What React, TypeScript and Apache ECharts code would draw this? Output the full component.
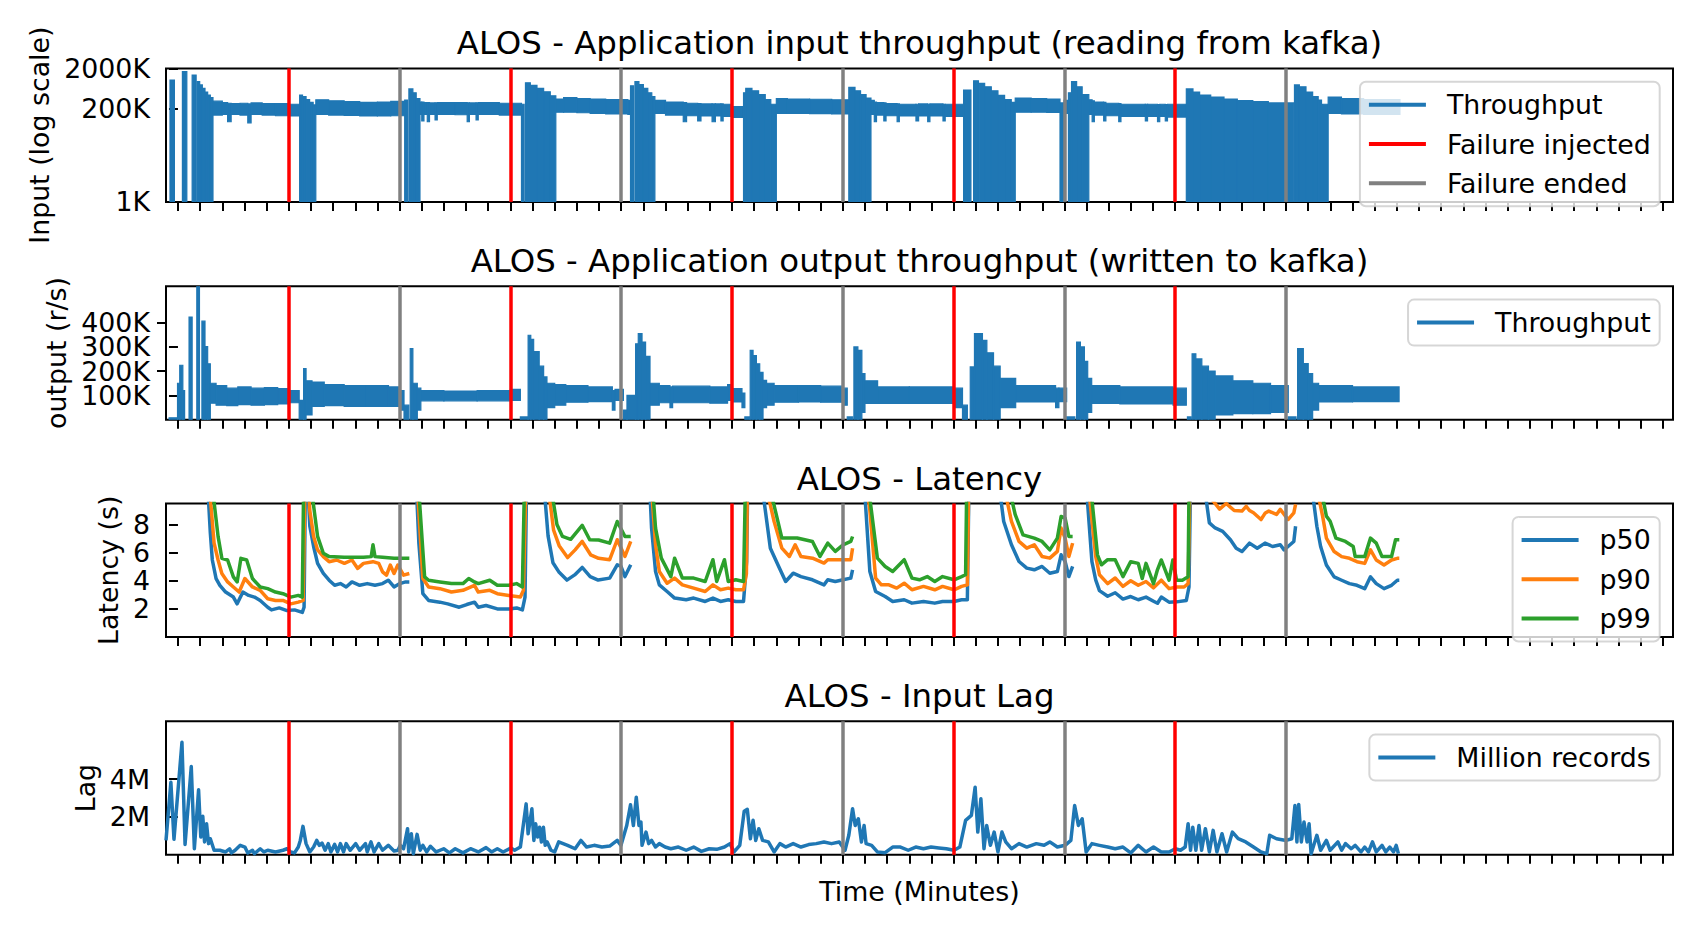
import React, { useEffect, useRef } from 'react';
import * as echarts from 'echarts';

// ---------- axes / events ----------
const X_MIN = -0.54;
const X_MAX = 67.46;
const MINUTE_TICKS = Array.from({ length: 68 }, (_, i) => i);
const FAILURE_INJECTED = [5, 15, 25, 35, 45];
const FAILURE_ENDED = [10, 20, 30, 40, 50];
const INPUT_TICKS = [1, 200, 2000]; // K records/s (log)
const OUTPUT_TICKS_A = [100, 300]; // K records/s (split over two axes so that
const OUTPUT_TICKS_B = [200, 400]; //   the tightly packed labels all stay visible)
const LATENCY_TICKS = [2, 4, 6, 8]; // s
const LAG_TICKS = [2, 4]; // M records

const TITLES = [
  'ALOS - Application input throughput (reading from kafka)',
  'ALOS - Application output throughput (written to kafka)',
  'ALOS - Latency',
  'ALOS - Input Lag',
];
const Y_NAMES = ['Input (log scale)', 'output (r/s)', 'Latency (s)', 'Lag'];

// ---------- input throughput: [t0, t1, low K, high K] ----------
const INPUT_BLOCKS = [
  [-0.36, -0.16, 1, 1030], [0.2, 0.4, 1, 1660], [0.64, 0.82, 1, 1370], [0.86, 0.98, 1, 940],
  [0.98, 1.1, 1, 780], [1.1, 1.22, 1, 640], [1.22, 1.34, 1, 520], [1.34, 1.46, 1, 440],
  [1.46, 1.58, 1, 380], [1.58, 2.0, 140, 310], [2.0, 2.24, 145, 285], [2.24, 2.4, 96, 275],
  [2.4, 2.8, 145, 270], [2.8, 3.15, 140, 275], [3.15, 3.3, 90, 265], [3.3, 3.8, 145, 280],
  [3.8, 4.4, 140, 270], [4.4, 5.0, 135, 270], [5.0, 5.49, 133, 260], [5.49, 5.62, 1, 440],
  [5.62, 5.78, 1, 400], [5.78, 5.94, 1, 340], [5.94, 6.1, 1, 290], [6.1, 6.22, 1, 250],
  [6.22, 6.8, 145, 335], [6.8, 7.5, 140, 315], [7.5, 8.2, 137, 300], [8.2, 9.0, 133, 290],
  [9.0, 9.6, 133, 295], [9.6, 10.23, 135, 305], [10.23, 10.36, 1, 330], [10.42, 10.6, 1, 620],
  [10.6, 10.75, 1, 500], [10.75, 10.92, 1, 360], [10.92, 11.0, 145, 295], [11.0, 11.1, 100, 295],
  [11.1, 11.25, 145, 285], [11.25, 11.35, 96, 285], [11.35, 11.6, 145, 280], [11.6, 11.7, 106, 280],
  [11.7, 12.5, 145, 285], [12.5, 13.05, 143, 285], [13.05, 13.15, 96, 280], [13.15, 13.45, 145, 280],
  [13.45, 13.55, 106, 280], [13.55, 14.5, 145, 285], [14.5, 15.5, 140, 275], [15.5, 15.62, 1, 260],
  [15.68, 15.9, 1, 880], [15.9, 16.2, 1, 760], [16.2, 16.5, 1, 640], [16.5, 16.8, 1, 530],
  [16.8, 17.05, 1, 420], [17.05, 17.4, 165, 350], [17.4, 18.0, 165, 380], [18.0, 18.6, 160, 360],
  [18.6, 19.3, 155, 350], [19.3, 20.3, 150, 340], [20.3, 20.42, 145, 325], [20.42, 20.56, 1, 740],
  [20.62, 20.8, 1, 937], [20.8, 21.0, 1, 800], [21.0, 21.2, 1, 640], [21.2, 21.38, 1, 500],
  [21.38, 21.52, 1, 400], [21.52, 22.0, 155, 325], [22.0, 22.8, 140, 295], [22.8, 22.95, 96, 285],
  [22.95, 23.45, 135, 275], [23.45, 23.6, 100, 270], [23.6, 24.1, 133, 265], [24.1, 24.25, 96, 265],
  [24.25, 24.5, 133, 265], [24.5, 24.6, 100, 265], [24.6, 25.0, 130, 260], [25.0, 25.52, 122, 228],
  [25.52, 25.62, 1, 500], [25.62, 25.9, 1, 640], [25.9, 26.2, 1, 560], [26.2, 26.5, 1, 450],
  [26.5, 26.75, 1, 340], [26.75, 27.0, 1, 260], [27.0, 27.5, 155, 360], [27.5, 28.5, 155, 350],
  [28.5, 29.5, 153, 345], [29.5, 30.27, 150, 335], [30.27, 30.55, 1, 680], [30.55, 30.8, 1, 560],
  [30.8, 31.05, 1, 450], [31.05, 31.27, 1, 370], [31.27, 31.42, 145, 325], [31.42, 31.52, 96, 295],
  [31.52, 31.85, 140, 285], [31.85, 31.95, 100, 280], [31.95, 32.45, 135, 270], [32.45, 32.55, 96, 265],
  [32.55, 33.3, 133, 260], [33.3, 33.42, 100, 260], [33.42, 33.83, 133, 265], [33.83, 33.93, 96, 260],
  [33.93, 34.52, 133, 265], [34.52, 34.62, 100, 260], [34.62, 35.45, 130, 260], [35.45, 35.78, 1, 584],
  [35.9, 36.12, 1, 990], [36.16, 36.4, 1, 850], [36.4, 36.7, 1, 700], [36.7, 37.0, 1, 560],
  [37.0, 37.3, 1, 430], [37.3, 37.6, 1, 340], [37.6, 37.78, 1, 290], [37.78, 38.5, 165, 370],
  [38.5, 39.2, 165, 360], [39.2, 39.8, 163, 350], [39.8, 39.98, 1, 280], [39.98, 40.18, 155, 325],
  [40.18, 40.3, 1, 500], [40.32, 40.55, 1, 937], [40.55, 40.8, 1, 700], [40.8, 41.1, 1, 450],
  [41.1, 41.25, 145, 335], [41.25, 41.35, 96, 315], [41.35, 41.77, 140, 295], [41.77, 41.87, 100, 290],
  [41.87, 42.45, 135, 275], [42.45, 42.55, 96, 270], [42.55, 43.65, 130, 260], [43.65, 43.75, 100, 260],
  [43.75, 44.2, 130, 260], [44.2, 44.3, 96, 255], [44.3, 44.55, 130, 260], [44.55, 44.65, 100, 255],
  [44.65, 45.5, 125, 260], [45.5, 45.8, 1, 620], [45.8, 46.1, 1, 520], [46.1, 46.6, 1, 440],
  [46.6, 47.2, 1, 390], [47.2, 47.8, 1, 350], [47.8, 48.5, 1, 320], [48.5, 49.2, 1, 300],
  [49.2, 50.35, 1, 280], [50.38, 50.6, 1, 780], [50.6, 50.9, 1, 700], [50.9, 51.2, 1, 520],
  [51.2, 51.45, 1, 400], [51.45, 51.6, 1, 330], [51.65, 51.9, 1, 260], [51.9, 52.5, 155, 390],
  [52.5, 53.5, 150, 360], [53.5, 55.14, 145, 340],
];

// ---------- output throughput: [t0, t1, low K, high K] ----------
const OUTPUT_BLOCKS = [
  [-0.4, -0.02, 0, 8], [-0.02, 0.08, 0, 150], [0.08, 0.22, 0, 224], [0.22, 0.3, 0, 120],
  [0.5, 0.64, 0, 422], [0.85, 0.97, 0, 560], [1.08, 1.22, 0, 405], [1.22, 1.34, 0, 300],
  [1.34, 1.46, 0, 230], [1.46, 1.72, 68, 150], [1.72, 2.2, 60, 140], [2.2, 2.7, 58, 130],
  [2.7, 3.3, 62, 135], [3.3, 3.9, 60, 130], [3.9, 4.5, 62, 132], [4.5, 5.0, 65, 128],
  [5.0, 5.47, 70, 120], [5.47, 5.67, 0, 80], [5.67, 5.78, 0, 210], [5.78, 6.05, 20, 160],
  [6.05, 6.6, 55, 155], [6.6, 7.5, 58, 145], [7.5, 8.5, 55, 140], [8.5, 9.5, 55, 140],
  [9.5, 10.0, 55, 135], [10.0, 10.2, 40, 120], [10.2, 10.42, 0, 60], [10.48, 10.6, 0, 292],
  [10.6, 10.8, 0, 150], [10.8, 10.96, 40, 130], [10.96, 12.0, 78, 120], [12.0, 13.5, 78, 118],
  [13.5, 15.0, 78, 120], [15.0, 15.45, 80, 125], [15.45, 15.8, 0, 12], [15.8, 15.92, 0, 347],
  [15.92, 16.05, 0, 330], [16.05, 16.3, 0, 280], [16.3, 16.5, 0, 220], [16.5, 16.65, 0, 176],
  [16.65, 17.0, 50, 150], [17.0, 17.5, 60, 145], [17.5, 18.5, 72, 140], [18.5, 19.6, 75, 135],
  [19.6, 19.72, 40, 120], [19.72, 20.1, 80, 125], [20.1, 20.26, 0, 40], [20.26, 20.65, 0, 100],
  [20.65, 20.77, 0, 312], [20.77, 20.94, 0, 354], [20.94, 21.1, 0, 319], [21.1, 21.3, 0, 260],
  [21.3, 21.72, 60, 150], [21.72, 22.2, 70, 140], [22.2, 22.32, 50, 135], [22.32, 24.0, 70, 138],
  [24.0, 24.8, 68, 135], [24.8, 25.0, 80, 145], [25.0, 25.45, 73, 128], [25.45, 25.58, 50, 110],
  [25.58, 25.8, 0, 12], [25.82, 25.95, 0, 285], [25.95, 26.1, 0, 264], [26.1, 26.25, 0, 230],
  [26.25, 26.4, 0, 195], [26.4, 26.56, 50, 162], [26.56, 26.9, 60, 150], [26.9, 28.0, 72, 140],
  [28.0, 29.0, 73, 140], [29.0, 30.0, 72, 138], [30.0, 30.2, 60, 130], [30.2, 30.45, 0, 12],
  [30.5, 30.68, 0, 299], [30.68, 30.86, 0, 285], [30.86, 31.0, 30, 190], [31.0, 31.57, 67, 160],
  [31.57, 33.0, 67, 135], [33.0, 35.0, 67, 135], [35.0, 35.4, 50, 130], [35.4, 35.62, 0, 60],
  [35.75, 35.9, 0, 217], [35.94, 36.3, 0, 354], [36.3, 36.5, 0, 326], [36.5, 36.8, 0, 275],
  [36.8, 37.1, 0, 220], [37.1, 37.8, 50, 170], [37.8, 39.6, 73, 140], [39.6, 39.75, 50, 130],
  [39.75, 40.1, 75, 130], [40.1, 40.47, 0, 12], [40.55, 40.72, 0, 319], [40.72, 40.9, 0, 299],
  [40.9, 41.05, 0, 240], [41.05, 41.23, 30, 170], [41.23, 42.5, 67, 140], [42.5, 44.9, 65, 135],
  [44.9, 45.5, 60, 130], [45.55, 45.72, 0, 12], [45.76, 45.93, 0, 271], [45.93, 46.2, 0, 250],
  [46.2, 46.5, 0, 220], [46.5, 46.8, 0, 200], [46.8, 47.6, 20, 180], [47.6, 48.5, 25, 160],
  [48.5, 49.3, 25, 150], [49.3, 50.1, 30, 140], [50.1, 50.45, 0, 12], [50.52, 50.78, 0, 292],
  [50.78, 51.0, 0, 231], [51.0, 51.2, 0, 190], [51.2, 51.47, 40, 150], [51.47, 53.0, 73, 140],
  [53.0, 55.1, 75, 135],
];

// ---------- latency (s): [t, value], null = gap ----------
const P50 = [
  [1.3, 12], [1.46, 7.4], [1.55, 5.48], [1.72, 4.16], [1.89, 3.68], [2.15, 3.2], [2.5, 2.84], [2.67, 2.36], [2.93, 3.2], [3.19, 2.96], [3.45, 2.84], [3.71, 2.6], [4.05, 2.12], [4.22, 1.93], [4.57, 2.07], [4.92, 1.88], [5.26, 1.93], [5.61, 1.75], [5.69, 2.12], [5.76, 12],
  [5.82, 12], [5.95, 7.88], [6.12, 6.44], [6.3, 5.24], [6.56, 4.52], [6.82, 4.04], [7.07, 3.68], [7.33, 3.8], [7.59, 3.56], [7.85, 3.92], [8.2, 3.68], [8.54, 3.8], [8.89, 3.68], [9.23, 3.8], [9.49, 4.04], [9.75, 3.56], [10.01, 3.8], [10.27, 3.92], [10.44, 3.92],
  null,
  [10.72, 12], [10.87, 6.68], [11.05, 3.08], [11.31, 2.6], [11.82, 2.48], [12.17, 2.36], [12.69, 2.12], [13.03, 2.31], [13.38, 2.48], [13.55, 2.12], [13.9, 2.24], [14.41, 2.0], [14.93, 2.0], [15.28, 2.07], [15.54, 1.93], [15.66, 2.84], [15.74, 12],
  [16.45, 12], [16.7, 7.2], [16.92, 5.28], [17.2, 4.6], [17.55, 4.05], [17.9, 4.42], [18.24, 4.95], [18.6, 4.3], [18.96, 4.05], [19.48, 4.19], [19.82, 5.14], [19.99, 5.02], [20.17, 4.3], [20.43, 5.14],
  null,
  [21.25, 12], [21.37, 7.75], [21.55, 4.66], [21.72, 3.71], [22.07, 3.24], [22.41, 2.77], [22.93, 2.65], [23.27, 2.77], [23.79, 2.53], [24.14, 2.77], [24.48, 2.53], [24.83, 2.65], [25.17, 2.53], [25.52, 2.53], [25.66, 5.37], [25.72, 12],
  [26.25, 12], [26.73, 6.32], [27.07, 5.14], [27.42, 3.95], [27.76, 4.54], [28.11, 4.3], [28.63, 4.07], [29.15, 3.71], [29.32, 4.07], [29.66, 3.95], [30.01, 4.07], [30.36, 4.19], [30.44, 4.77],
  null,
  [30.92, 12], [31.22, 4.66], [31.48, 3.24], [31.91, 2.88], [32.25, 2.53], [32.77, 2.65], [33.12, 2.41], [33.64, 2.53], [34.15, 2.41], [34.5, 2.53], [35.02, 2.53], [35.36, 2.65], [35.62, 2.65], [35.7, 12],
  [36.95, 12], [37.26, 8.22], [37.61, 6.56], [37.95, 5.37], [38.3, 4.9], [38.64, 4.78], [38.99, 5.02], [39.34, 4.54], [39.68, 4.66], [39.85, 5.85], [40.03, 5.37], [40.2, 4.3], [40.37, 5.02],
  null,
  [40.93, 12], [41.24, 5.37], [41.41, 4.07], [41.58, 3.3], [41.95, 2.9], [42.29, 3.15], [42.64, 2.7], [42.99, 2.88], [43.33, 2.65], [43.68, 2.84], [44.02, 2.55], [44.2, 2.4], [44.37, 2.84], [44.72, 2.48], [45.06, 2.5], [45.5, 2.6], [45.62, 3.56], [45.7, 12],
  [46.2, 12], [46.54, 8.12], [46.8, 7.76], [47.14, 7.52], [47.49, 6.92], [47.75, 6.32], [48.01, 6.08], [48.35, 6.68], [48.7, 6.32], [49.05, 6.68], [49.39, 6.44], [49.74, 6.56], [49.91, 6.2], [50.09, 6.44], [50.35, 6.8], [50.43, 7.88],
  null,
  [51.05, 12], [51.39, 7.88], [51.56, 6.44], [51.82, 5.12], [52.17, 4.28], [52.51, 4.04], [52.86, 3.8], [53.2, 3.68], [53.55, 3.44], [53.81, 4.28], [54.07, 3.8], [54.42, 3.44], [54.76, 3.68], [55.02, 4.04], [55.11, 4.04],
];

const P90 = [
  [1.35, 12], [1.63, 6.68], [1.81, 5.48], [1.98, 4.52], [2.24, 3.92], [2.5, 3.56], [2.76, 3.2], [3.02, 4.16], [3.36, 3.56], [3.71, 3.32], [4.05, 2.72], [4.4, 2.6], [4.74, 2.6], [5.09, 2.36], [5.43, 2.48], [5.65, 2.6], [5.74, 12],
  [5.85, 12], [5.95, 9.0], [6.12, 7.16], [6.3, 6.2], [6.56, 5.72], [6.82, 5.36], [7.16, 5.48], [7.51, 5.24], [7.85, 5.48], [8.11, 4.88], [8.37, 5.24], [8.8, 5.36], [9.06, 5.24], [9.23, 4.64], [9.41, 4.4], [9.58, 5.12], [9.75, 4.52], [9.92, 5.12], [10.18, 4.4], [10.44, 4.52],
  null,
  [10.75, 12], [11.05, 4.16], [11.31, 3.56], [11.82, 3.44], [12.34, 3.2], [12.86, 3.32], [13.38, 3.68], [13.55, 3.2], [14.07, 3.32], [14.41, 3.08], [14.93, 2.96], [15.45, 2.84], [15.59, 3.32], [15.72, 12],
  [16.6, 12], [16.95, 7.6], [17.2, 6.5], [17.58, 5.65], [17.92, 6.2], [18.24, 6.8], [18.62, 5.85], [18.98, 5.6], [19.48, 5.5], [19.82, 6.92], [20.17, 5.73], [20.43, 6.8],
  null,
  [21.3, 12], [21.55, 6.56], [21.72, 4.66], [22.07, 3.83], [22.41, 4.19], [22.76, 3.71], [23.27, 3.48], [23.79, 3.24], [24.14, 3.71], [24.48, 3.36], [24.83, 3.48], [25.17, 3.36], [25.52, 3.36], [25.65, 4.5], [25.7, 12],
  [26.35, 12], [26.9, 8.22], [27.25, 6.32], [27.59, 5.73], [27.85, 6.56], [28.11, 5.73], [28.63, 5.61], [29.15, 5.26], [29.32, 5.5], [30.01, 5.5], [30.36, 5.5], [30.44, 6.32],
  null,
  [31.0, 12], [31.22, 9.0], [31.48, 4.19], [31.74, 3.71], [32.08, 3.71], [32.43, 3.48], [32.77, 3.83], [33.12, 3.36], [33.64, 3.6], [34.15, 3.36], [34.5, 3.6], [35.02, 3.36], [35.36, 3.6], [35.62, 3.71], [35.69, 12],
  [37.1, 12], [37.61, 8.22], [37.95, 6.8], [38.3, 6.32], [38.64, 6.56], [38.99, 5.73], [39.34, 5.61], [39.68, 6.09], [39.85, 7.75], [40.03, 7.04], [40.2, 5.73], [40.37, 6.68],
  null,
  [41.0, 12], [41.41, 5.73], [41.58, 4.43], [41.95, 3.8], [42.29, 4.2], [42.64, 3.6], [42.99, 4.0], [43.33, 3.68], [43.68, 3.95], [44.02, 3.5], [44.37, 4.04], [44.72, 3.44], [45.06, 3.56], [45.4, 3.56], [45.58, 3.8], [45.68, 12],
  [46.3, 12], [46.7, 9.7], [47.0, 9.1], [47.3, 9.5], [47.66, 9.0], [48.01, 8.96], [48.2, 9.3], [48.35, 9.0], [48.53, 8.84], [48.87, 8.36], [49.05, 8.8], [49.22, 8.96], [49.57, 8.72], [49.74, 9.08], [50.09, 8.36], [50.35, 8.84], [50.43, 9.44],
  null,
  [51.2, 12], [51.65, 8.6], [51.82, 7.04], [52.17, 6.08], [52.51, 5.72], [52.86, 5.6], [53.2, 5.36], [53.55, 5.24], [53.81, 6.2], [54.07, 5.48], [54.42, 5.12], [54.76, 5.48], [55.02, 5.6], [55.11, 5.6],
];

const P99 = [
  [1.45, 12], [1.81, 7.16], [1.98, 5.6], [2.24, 5.48], [2.5, 4.28], [2.67, 3.92], [2.84, 5.6], [3.1, 5.48], [3.36, 4.16], [3.71, 3.56], [4.05, 3.44], [4.4, 3.2], [4.74, 3.08], [5.09, 2.84], [5.43, 2.96], [5.61, 2.84], [5.68, 12],
  [5.9, 12], [6.3, 7.16], [6.56, 5.96], [6.82, 5.72], [7.5, 5.67], [8.37, 5.67], [8.72, 5.72], [8.8, 6.56], [8.89, 5.72], [9.23, 5.67], [9.75, 5.6], [10.44, 5.6],
  null,
  [10.8, 12], [11.13, 4.28], [11.31, 4.04], [11.82, 3.92], [12.34, 3.8], [12.86, 3.8], [13.12, 4.16], [13.38, 3.92], [13.55, 3.8], [14.07, 4.04], [14.41, 3.68], [14.93, 3.68], [15.28, 3.8], [15.54, 3.56], [15.65, 12],
  [16.7, 12], [17.1, 8.0], [17.35, 7.16], [17.72, 6.95], [18.24, 7.95], [18.58, 6.92], [18.98, 6.9], [19.48, 6.68], [19.82, 8.22], [20.17, 7.15], [20.43, 7.15],
  null,
  [21.35, 12], [21.55, 7.75], [21.81, 5.61], [22.24, 4.3], [22.41, 5.61], [22.76, 4.19], [23.27, 4.19], [23.79, 3.95], [24.14, 5.5], [24.31, 3.95], [24.66, 5.5], [24.83, 3.95], [25.17, 4.07], [25.52, 3.95], [25.62, 12],
  [26.5, 12], [27.25, 7.04], [27.94, 7.04], [28.63, 6.8], [28.97, 5.73], [29.32, 6.68], [29.66, 6.09], [30.01, 6.56], [30.36, 6.8], [30.44, 7.15],
  null,
  [31.05, 12], [31.56, 5.61], [31.91, 5.02], [32.25, 4.66], [32.77, 5.5], [33.12, 4.19], [33.46, 4.07], [33.81, 4.3], [34.15, 3.95], [34.5, 4.3], [35.02, 4.07], [35.36, 4.3], [35.54, 4.43], [35.6, 12],
  [37.3, 12], [37.78, 8.7], [38.13, 7.27], [38.64, 7.04], [38.99, 6.8], [39.34, 6.2], [39.68, 7.04], [39.85, 8.58], [40.03, 8.46], [40.2, 7.15], [40.37, 7.15],
  null,
  [41.1, 12], [41.49, 5.85], [41.67, 5.14], [41.95, 5.5], [42.29, 5.5], [42.64, 4.3], [42.99, 5.36], [43.33, 5.24], [43.51, 4.16], [43.68, 5.24], [44.02, 3.8], [44.2, 4.8], [44.37, 5.48], [44.72, 4.04], [44.89, 5.48], [45.06, 4.04], [45.32, 4.04], [45.58, 4.28], [45.63, 12],
  [46.5, 12], [48.0, 11], [49.0, 10.5], [50.0, 10.2], [50.43, 10.5],
  null,
  [51.4, 12], [51.82, 8.6], [51.99, 8.24], [52.25, 7.04], [52.68, 6.8], [53.03, 6.44], [53.12, 5.72], [53.55, 5.72], [53.81, 7.04], [54.07, 6.68], [54.33, 5.72], [54.76, 5.72], [54.94, 6.92], [55.11, 6.92],
];

// ---------- input lag (M records): [t, value] ----------
const LAG = [
  [-0.54, 0.76], [-0.32, 3.83], [-0.18, 0.82], [0.18, 5.94], [0.32, 0.55], [0.6, 4.66], [0.74, 0.32], [0.93, 3.43], [1.03, 0.94], [1.12, 2.03], [1.2, 0.68], [1.29, 1.64], [1.38, 0.59], [1.46, 0.85], [1.63, 0.24], [1.89, 0.24], [2.15, 0.15], [2.33, 0.32], [2.41, 0.1], [2.58, 0.24], [2.81, 0.5], [3.02, 0.41], [3.15, 0.1], [3.36, 0.24], [3.45, 0.06], [3.71, 0.32], [3.88, 0.15], [4.05, 0.24], [4.4, 0.15], [4.74, 0.24], [4.92, 0.32], [5.09, 0.15], [5.26, 0.1], [5.43, 0.41], [5.52, 0.76], [5.64, 1.5], [5.78, 0.59], [5.95, 0.15], [6.12, 0.41], [6.26, 0.76], [6.38, 0.5], [6.5, 0.62], [6.64, 0.24], [6.78, 0.59], [6.9, 0.15], [7.07, 0.55], [7.2, 0.15], [7.33, 0.59], [7.47, 0.15], [7.59, 0.59], [7.77, 0.24], [8.02, 0.59], [8.2, 0.24], [8.46, 0.59], [8.54, 0.15], [8.71, 0.68], [8.85, 0.15], [9.06, 0.59], [9.23, 0.24], [9.49, 0.5], [9.75, 0.2], [9.93, 0.24], [10.03, 0.5], [10.18, 0.32], [10.36, 1.38], [10.41, 0.15], [10.53, 1.11], [10.62, 0.06], [10.79, 1.08], [10.93, 0.24], [11.05, 0.5], [11.22, 0.15], [11.39, 0.45], [11.65, 0.15], [11.99, 0.32], [12.25, 0.1], [12.51, 0.32], [12.86, 0.1], [13.2, 0.32], [13.55, 0.15], [13.9, 0.38], [14.15, 0.15], [14.41, 0.32], [14.67, 0.15], [15.02, 0.36], [15.19, 0.24], [15.45, 0.41], [15.71, 2.69], [15.8, 1.11], [15.97, 2.43], [16.06, 0.76], [16.14, 1.64], [16.23, 0.94], [16.32, 1.46], [16.4, 0.68], [16.49, 1.46], [16.57, 0.5], [16.66, 0.68], [16.83, 0.24], [17.0, 0.15], [17.18, 0.68], [17.58, 0.5], [17.92, 0.32], [18.18, 0.76], [18.44, 0.41], [18.78, 0.5], [19.13, 0.41], [19.48, 0.46], [19.82, 0.76], [19.99, 0.5], [20.25, 1.55], [20.42, 2.64], [20.55, 1.55], [20.68, 3.04], [20.8, 1.55], [20.89, 1.73], [20.94, 0.5], [21.12, 1.2], [21.24, 0.59], [21.37, 0.76], [21.55, 0.41], [21.72, 0.59], [21.98, 0.41], [22.24, 0.32], [22.58, 0.41], [22.93, 0.24], [23.27, 0.41], [23.62, 0.18], [23.97, 0.32], [24.31, 0.29], [24.66, 0.41], [24.91, 0.59], [25.09, 0.15], [25.35, 0.5], [25.55, 2.3], [25.69, 2.4], [25.83, 0.85], [25.95, 1.82], [26.07, 0.76], [26.21, 1.38], [26.38, 0.76], [26.64, 0.68], [26.9, 0.15], [27.16, 0.59], [27.42, 0.41], [27.76, 0.59], [28.11, 0.41], [28.46, 0.54], [28.8, 0.59], [29.15, 0.68], [29.49, 0.59], [29.84, 0.68], [30.1, 0.24], [30.27, 1.03], [30.44, 2.43], [30.56, 1.55], [30.7, 1.9], [30.84, 0.68], [30.96, 1.55], [31.05, 0.59], [31.3, 0.5], [31.56, 0.15], [31.91, 0.11], [32.25, 0.41], [32.6, 0.41], [32.95, 0.24], [33.29, 0.41], [33.64, 0.32], [33.98, 0.41], [34.33, 0.36], [34.67, 0.32], [35.02, 0.24], [35.28, 0.41], [35.54, 1.82], [35.8, 2.08], [35.97, 3.57], [36.09, 1.2], [36.23, 2.96], [36.37, 0.32], [36.49, 1.55], [36.66, 0.5], [36.83, 1.2], [37.0, 0.15], [37.18, 1.2], [37.35, 0.68], [37.61, 0.32], [37.95, 0.59], [38.3, 0.41], [38.73, 0.59], [39.08, 0.5], [39.34, 0.68], [39.68, 0.41], [40.03, 0.5], [40.29, 0.76], [40.46, 2.6], [40.63, 1.55], [40.8, 1.9], [40.98, 0.15], [41.24, 0.59], [41.58, 0.5], [41.95, 0.41], [42.29, 0.32], [42.64, 0.41], [42.99, 0.1], [43.33, 0.5], [43.68, 0.15], [44.02, 0.41], [44.37, 0.15], [44.72, 0.15], [45.0, 0.32], [45.24, 0.24], [45.45, 0.41], [45.58, 1.64], [45.69, 0.24], [45.79, 1.46], [45.93, 0.24], [46.07, 1.55], [46.19, 0.24], [46.36, 1.38], [46.54, 0.15], [46.71, 1.29], [46.88, 0.15], [47.11, 1.11], [47.32, 0.15], [47.58, 1.2], [47.84, 0.85], [48.18, 0.68], [48.53, 0.41], [48.87, 0.15], [49.13, 0.06], [49.26, 1.03], [49.57, 0.85], [50.0, 0.76], [50.26, 0.85], [50.4, 2.6], [50.49, 0.68], [50.57, 2.66], [50.69, 0.68], [50.81, 1.73], [50.95, 0.68], [51.04, 1.64], [51.13, 0.06], [51.39, 1.03], [51.56, 0.24], [51.82, 0.76], [51.99, 0.24], [52.34, 0.68], [52.51, 0.24], [52.68, 0.59], [52.94, 0.32], [53.12, 0.5], [53.38, 0.15], [53.55, 0.41], [53.72, 0.15], [53.9, 0.68], [54.07, 0.15], [54.33, 0.5], [54.5, 0.15], [54.68, 0.41], [54.85, 0.15], [54.97, 0.5], [55.07, 0.06],
];

// ---------- styling ----------
const FONT = 'DejaVu Sans';
const BLUE = '#1f77b4';
const ORANGE = '#ff7f0e';
const GREEN = '#2ca02c';
const RED = '#ff0000';
const GRAY = '#808080';
const GRID_TOPS = [68.4, 286.3, 503.5, 721.3];
const LEGEND_TOPS = [81.7, 299.6, 516.9, 734.6];
const Y_NAME_GAPS = [110, 93, 41, 61];
const LABEL_SIZE = 26.8;

function buildOption() {
  const nameText = { fontSize: LABEL_SIZE, fontFamily: FONT, color: '#000', lineHeight: 27 };
  const tickText = { fontSize: LABEL_SIZE, fontFamily: FONT, color: '#000', lineHeight: 20 };
  const tick = { show: true, inside: false, length: 9, lineStyle: { color: '#000', width: 2 } };

  const grids = GRID_TOPS.map((top) => ({
    left: 166, top, width: 1507, height: 133.5, show: true,
    borderColor: '#000', borderWidth: 2, backgroundColor: 'transparent',
    containLabel: false, outerBoundsMode: 'none',
  }));

  const xAxes = GRID_TOPS.map((_, i) => ({
    type: 'value', gridIndex: i, min: X_MIN, max: X_MAX,
    axisLine: { show: false }, splitLine: { show: false },
    axisLabel: { show: false },
    axisTick: { ...tick, customValues: MINUTE_TICKS },
    ...(i === 3
      ? { name: 'Time (Minutes)', nameLocation: 'middle', nameGap: 23, nameTextStyle: nameText }
      : {}),
  }));

  const yBase = (grid, ticks, fmt, nameIdx) => ({
    gridIndex: grid, position: 'left', offset: 0,
    axisLine: { show: false }, splitLine: { show: false }, minorTick: { show: false },
    axisTick: { ...tick, customValues: ticks },
    axisLabel: {
      ...tickText, margin: 16, customValues: ticks, formatter: fmt,
      showMinLabel: true, showMaxLabel: true, hideOverlap: false,
    },
    ...(nameIdx != null
      ? { name: Y_NAMES[nameIdx], nameLocation: 'middle', nameGap: Y_NAME_GAPS[nameIdx], nameTextStyle: nameText }
      : {}),
  });

  const kFmt = (v) => `${v}K`;
  const yAxes = [
    { type: 'log', logBase: 10, min: 1, max: 2000, ...yBase(0, INPUT_TICKS, (v) => `${Math.round(v)}K`, 0) },
    { type: 'value', min: 0, max: 548, ...yBase(1, OUTPUT_TICKS_A, kFmt, 1) },
    { type: 'value', min: 0, max: 9.5, ...yBase(2, LATENCY_TICKS, (v) => `${v}`, 2) },
    { type: 'value', min: 0, max: 7.05, ...yBase(3, LAG_TICKS, (v) => `${v}M`, 3) },
    { type: 'value', min: 0, max: 548, ...yBase(1, OUTPUT_TICKS_B, kFmt, null) },
  ];

  const renderBlock = (params, api) => {
    const a = api.coord([api.value(0), api.value(3)]);
    const b = api.coord([api.value(1), api.value(2)]);
    return {
      type: 'rect',
      shape: { x: a[0], y: a[1], width: b[0] - a[0], height: b[1] - a[1] },
      style: { fill: BLUE, stroke: BLUE, lineWidth: 1.2 },
    };
  };

  const blockSeries = (idx, data) => ({
    type: 'custom', name: 'Throughput', xAxisIndex: idx, yAxisIndex: idx,
    data, clip: true, z: 2, silent: true,
    encode: { x: [0, 1], y: [2, 3] },
    color: BLUE, itemStyle: { color: BLUE },
    renderItem: renderBlock,
  });

  const lineSeries = (name, idx, data, color) => ({
    type: 'line', name, xAxisIndex: idx, yAxisIndex: idx,
    data: data.map((p) => (p === null ? ['-', '-'] : p)),
    showSymbol: false, symbol: 'none', connectNulls: false, clip: true, silent: true,
    color, itemStyle: { color },
    lineStyle: { color, width: 3.5, join: 'round', cap: 'butt' },
    z: 2,
  });

  const failSeries = (name, idx, times, color) => ({
    type: 'line', name, xAxisIndex: idx, yAxisIndex: idx, data: [],
    symbol: 'none', color, itemStyle: { color }, lineStyle: { color, width: 3.5 }, silent: true,
    markLine: {
      silent: true, symbol: ['none', 'none'], animation: false,
      label: { show: false }, emphasis: { disabled: true },
      lineStyle: { color, width: 3.5, type: 'solid', opacity: 1 },
      data: times.map((t) => ({ xAxis: t })),
    },
  });

  const series = [
    blockSeries(0, INPUT_BLOCKS),
    blockSeries(1, OUTPUT_BLOCKS),
    lineSeries('p50', 2, P50, BLUE),
    lineSeries('p90', 2, P90, ORANGE),
    lineSeries('p99', 2, P99, GREEN),
    lineSeries('Million records', 3, LAG, BLUE),
  ];
  for (let i = 0; i < 4; i++) {
    series.push(failSeries('Failure injected', i, FAILURE_INJECTED, RED));
    series.push(failSeries('Failure ended', i, FAILURE_ENDED, GRAY));
  }

  const legendBase = {
    orient: 'vertical', right: 42.3, icon: 'rect', itemWidth: 57, itemHeight: 4, itemGap: 12.3,
    padding: [9.5, 9, 9.5, 9],
    backgroundColor: 'rgba(255,255,255,0.8)', borderColor: 'rgba(204,204,204,0.8)',
    borderWidth: 2, borderRadius: 6, selectedMode: false,
    itemStyle: { borderWidth: 0 },
    textStyle: { fontSize: LABEL_SIZE, fontFamily: FONT, color: '#000', lineHeight: 26, padding: [0, 0, 0, 16] },
  };
  const legends = [
    { ...legendBase, top: LEGEND_TOPS[0], data: ['Throughput', 'Failure injected', 'Failure ended'] },
    { ...legendBase, top: LEGEND_TOPS[1], data: ['Throughput'] },
    { ...legendBase, top: LEGEND_TOPS[2], data: ['p50', 'p90', 'p99'] },
    { ...legendBase, top: LEGEND_TOPS[3], data: ['Million records'] },
  ];

  const titles = TITLES.map((text, i) => ({
    text, left: 914.5, textAlign: 'center', top: GRID_TOPS[i] - 46,
    textStyle: { fontSize: 32.4, fontWeight: 'normal', fontFamily: FONT, color: '#000', lineHeight: 32 },
  }));

  return {
    animation: false,
    backgroundColor: '#ffffff',
    textStyle: { fontFamily: FONT },
    title: titles,
    legend: legends,
    grid: grids,
    xAxis: xAxes,
    yAxis: yAxes,
    series,
  };
}

export default function App() {
  const ref = useRef(null);
  useEffect(() => {
    const chart = echarts.init(ref.current, null, { renderer: 'svg' });
    chart.setOption(buildOption());
    return () => chart.dispose();
  }, []);
  return (
    <div
      ref={ref}
      style={{ position: 'absolute', left: 0, top: 0, width: 1702, height: 936, background: '#fff' }}
    />
  );
}
